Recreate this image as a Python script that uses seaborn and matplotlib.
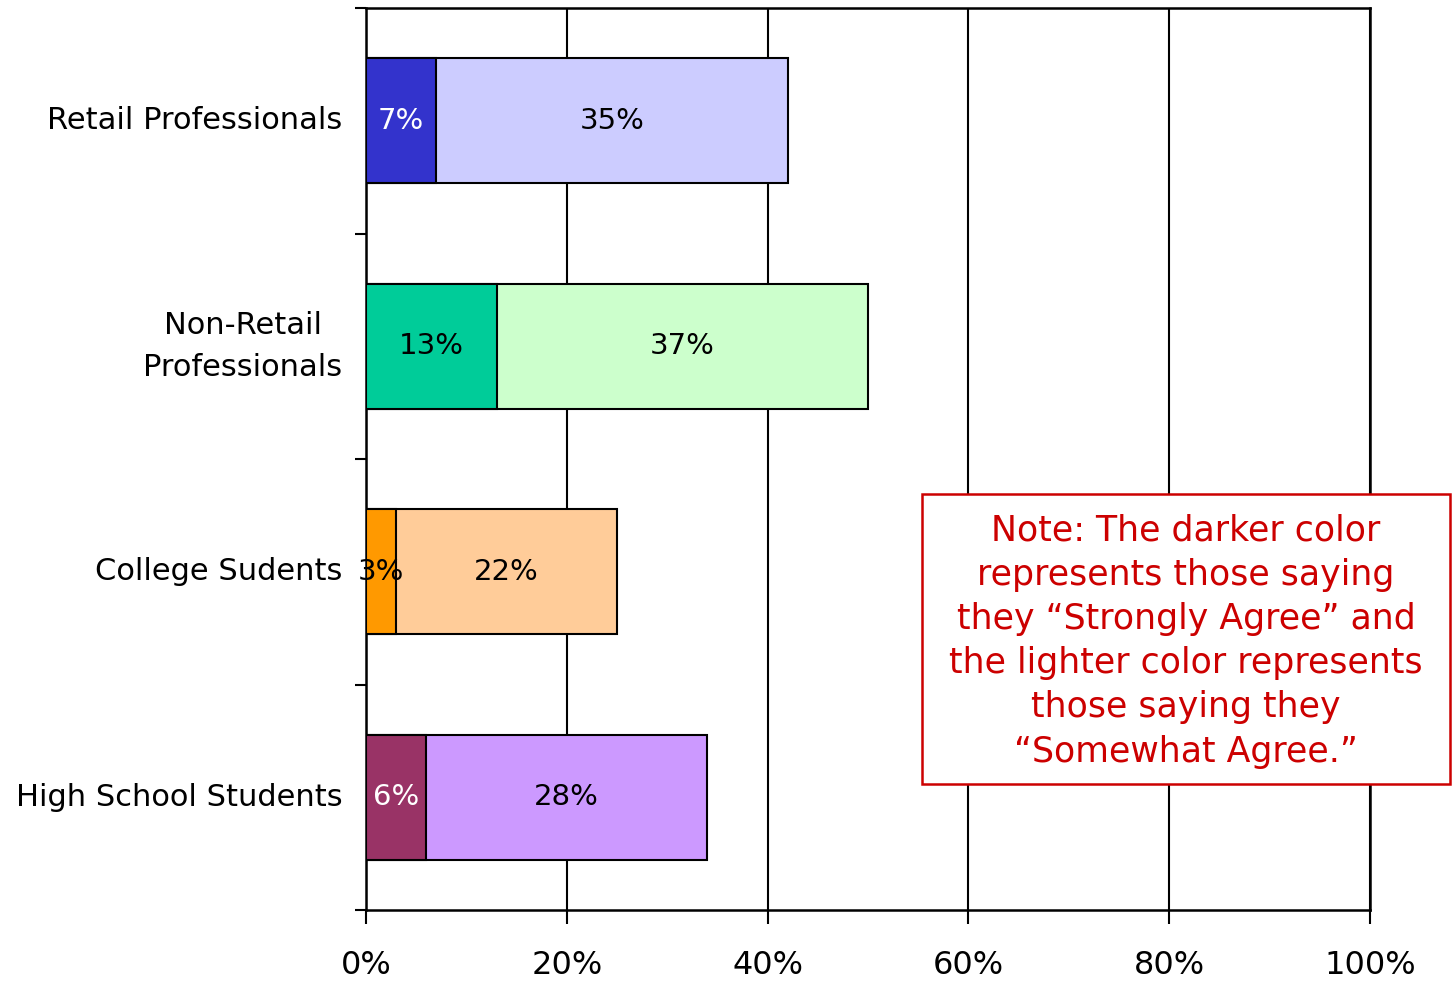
import matplotlib
matplotlib.use("Agg")
import matplotlib.pyplot as plt
from matplotlib.patches import Rectangle
from matplotlib.ticker import FixedLocator, PercentFormatter
import seaborn as sns
import pandas as pd

# Survey groups, top to bottom
groups = ["Retail Professionals", "Non-Retail\nProfessionals",
          "College Sudents", "High School Students"]
strongly_agree = [7, 13, 3, 6]
somewhat_agree = [35, 37, 22, 28]
dark_colors = ["#3333CC", "#00CC99", "#FF9900", "#993366"]
light_colors = ["#CCCCFF", "#CCFFCC", "#FFCC99", "#CC99FF"]
label_colors = ["white", "black", "black", "white"]
x_ticks = [0, 20, 40, 60, 80, 100]

note = ("Note: The darker color\nrepresents those saying\n"
        "they \u201cStrongly Agree\u201d and\nthe lighter color represents\n"
        "those saying they\n\u201cSomewhat Agree.\u201d")

sns.set_theme(style="white")
plt.rcParams["font.family"] = ["DejaVu Sans"]
plt.rcParams["text.color"] = "black"
plt.rcParams["xtick.color"] = "black"
plt.rcParams["ytick.color"] = "black"

df = pd.DataFrame({
    "group": groups,
    "strong": strongly_agree,
    "somewhat": somewhat_agree,
})
df["total"] = df["strong"] + df["somewhat"]

fig = plt.figure(figsize=(14.53, 9.82), dpi=100)
ax = fig.add_axes([366 / 1453, 1 - 910 / 982, 1004 / 1453, 902 / 982])

bar_w = 0.555
edge = dict(edgecolor="black", linewidth=1.5)

# Full bar (strongly + somewhat) in the light shade, then the strong part over it
sns.barplot(data=df, y="group", x="total", hue="group", order=groups,
            palette=dict(zip(groups, light_colors)), width=bar_w, saturation=1,
            legend=False, ax=ax, orient="h", zorder=3, **edge)
sns.barplot(data=df, y="group", x="strong", hue="group", order=groups,
            palette=dict(zip(groups, dark_colors)), width=bar_w, saturation=1,
            legend=False, ax=ax, orient="h", zorder=4, **edge)

for i, (s, w) in enumerate(zip(strongly_agree, somewhat_agree)):
    ax.text(s / 2, i, f"{s}%", ha="center", va="center", fontsize=21,
            color=label_colors[i], zorder=5)
    ax.text(s + w / 2, i, f"{w}%", ha="center", va="center", fontsize=21,
            color="black", zorder=5)

ax.set_xlim(0, 100)
ax.set_ylim(len(groups) - 0.5, -0.5)
ax.set_xlabel("")
ax.set_ylabel("")

ax.xaxis.set_major_locator(FixedLocator(x_ticks))
ax.xaxis.set_major_formatter(PercentFormatter(decimals=0))
ax.tick_params(axis="x", direction="out", length=10, width=1.5,
               color="black", labelsize=23, labelcolor="black", pad=19,
               bottom=True)
ax.tick_params(axis="y", which="major", length=0, labelsize=22,
               labelcolor="black", pad=17)
ax.yaxis.set_minor_locator(FixedLocator([i - 0.5 for i in range(len(groups) + 1)]))
ax.tick_params(axis="y", which="minor", direction="out", length=8, width=1.5,
               color="black", left=True)
for lbl in ax.get_yticklabels():
    lbl.set_multialignment("center")
    lbl.set_linespacing(1.55)
    lbl.set_verticalalignment("center")

ax.grid(axis="x", color="black", linewidth=1.5, zorder=1)
ax.set_axisbelow(True)
for side in ["left", "bottom", "top", "right"]:
    ax.spines[side].set_visible(True)
    ax.spines[side].set_color("black")
    ax.spines[side].set_linewidth(1.8)

# Explanatory note box
fig.add_artist(Rectangle((922 / 1453, 1 - 784 / 982), 528 / 1453, 290 / 982,
                         transform=fig.transFigure, facecolor="white",
                         edgecolor="#CC0000", linewidth=1.8, zorder=10))
fig.text(1186 / 1453, 1 - 641 / 982, note, ha="center", va="center",
         fontsize=25, color="#CC0000", linespacing=1.38, zorder=11)

fig.savefig("out.png", dpi=100)
